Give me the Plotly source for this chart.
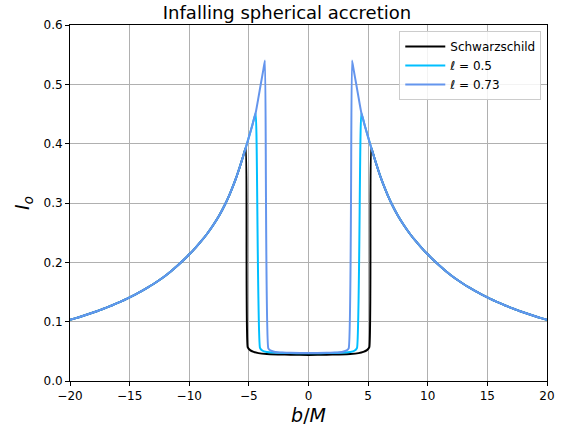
import plotly.graph_objects as go

# Outer intensity profile I_o(b) (shared by all models beyond their photon ring)
outer_b = [3.65, 3.8, 4.0, 4.2, 4.43, 4.7, 5.0, 5.25, 5.5, 5.75, 6.0, 6.25, 6.5, 6.75,
           7.0, 7.5, 8.0, 8.5, 9.0, 9.5, 10.0, 10.5, 11.0, 11.5, 12.0, 12.5, 13.0,
           13.5, 14.0, 14.5, 15.0, 15.5, 16.0, 16.5, 17.0, 17.5, 18.0, 18.5, 19.0,
           19.5, 20.0]
outer_I = [0.540, 0.523, 0.5005, 0.4775, 0.452, 0.432, 0.411, 0.394, 0.3775, 0.3615,
           0.3463, 0.3326, 0.3200, 0.3081, 0.2974, 0.2784, 0.2625, 0.2482, 0.2356, 0.2240,
           0.2135, 0.2034, 0.1941, 0.1855, 0.1775, 0.1702, 0.1635, 0.1573, 0.1514, 0.1461,
           0.1410, 0.1361, 0.1316, 0.1273, 0.1232, 0.1194, 0.1158, 0.1124, 0.1091, 0.1060,
           0.1030]

# Series: name, photon-ring b, inner (shadow) profile
names = ["Schwarzschild", "ℓ = 0.5", "ℓ = 0.73"]
colors = ["black", "#00BFFF", "#6495ED"]
peak_b = [5.25, 4.43, 3.65]
inner_b_schw = [5.1, 4.9, 4.6, 4.2, 3.5, 2.5, 1.5, 0.0]
inner_I_schw = [0.057, 0.052, 0.049, 0.047, 0.0455, 0.0448, 0.0443, 0.044]
inner_b_l05 = [4.07, 3.85, 3.5, 3.0, 2.0, 1.0, 0.0]
inner_I_l05 = [0.056, 0.051, 0.049, 0.048, 0.0472, 0.0468, 0.0466]
inner_b_l073 = [3.37, 3.15, 2.8, 2.2, 1.5, 0.0]
inner_I_l073 = [0.055, 0.051, 0.049, 0.048, 0.0475, 0.047]
inner_b = [inner_b_schw, inner_b_l05, inner_b_l073]
inner_I = [inner_I_schw, inner_I_l05, inner_I_l073]

xticks = [-20, -15, -10, -5, 0, 5, 10, 15, 20]
xticklabels = ["−20", "−15", "−10", "−5", "0", "5", "10", "15", "20"]
yticks = [0.0, 0.1, 0.2, 0.3, 0.4, 0.5, 0.6]

fig = go.Figure()
for name, col, p, ib, iI in zip(names, colors, peak_b, inner_b, inner_I):
    ob = [b for b in outer_b if b >= p - 1e-9]
    oI = [v for b, v in zip(outer_b, outer_I) if b >= p - 1e-9]
    # left side: outer from -20 to -p, then inner from edge to 0
    xs = [-b for b in reversed(ob)] + [-b for b in ib]
    ys = list(reversed(oI)) + list(iI)
    # right side: inner from 0 to edge, then outer from p to 20
    xs += [b for b in reversed(ib[:-1])] + ob
    ys += list(reversed(iI[:-1])) + oI
    fig.add_trace(go.Scatter(x=xs, y=ys, mode="lines", name=name,
                             line=dict(color=col, width=2, shape="spline", smoothing=0.4)))

fig.update_layout(
    width=574, height=436,
    margin=dict(l=70, r=27, t=25, b=55),
    paper_bgcolor="white", plot_bgcolor="white",
    font=dict(family="DejaVu Sans", size=12, color="black"),
    title=dict(text="Infalling spherical accretion", x=0.5, xanchor="center",
               y=0.972, yanchor="middle", font=dict(size=18)),
    showlegend=True,
    legend=dict(x=0.988, y=0.983, xanchor="right", yanchor="top",
                bgcolor="rgba(255,255,255,0.85)", bordercolor="#cccccc", borderwidth=1,
                font=dict(size=12), tracegroupgap=0, itemwidth=40),
)
fig.update_xaxes(range=[-20, 20], tickvals=xticks, ticktext=xticklabels,
                 showgrid=True, gridcolor="#b0b0b0", gridwidth=1,
                 showline=True, linecolor="black", linewidth=1, mirror=True,
                 ticks="outside", ticklen=4, tickcolor="black", zeroline=False,
                 title=dict(text="<i>b</i>/<i>M</i>", font=dict(size=19), standoff=6))
fig.update_yaxes(range=[0, 0.6], tickvals=yticks, tickformat=".1f",
                 showgrid=True, gridcolor="#b0b0b0", gridwidth=1,
                 showline=True, linecolor="black", linewidth=1, mirror=True,
                 ticks="outside", ticklen=4, tickcolor="black", zeroline=False,
                 title=dict(text="<i>I</i><sub><i>o</i></sub>", font=dict(size=19), standoff=8))

fig.write_html("out.html")
